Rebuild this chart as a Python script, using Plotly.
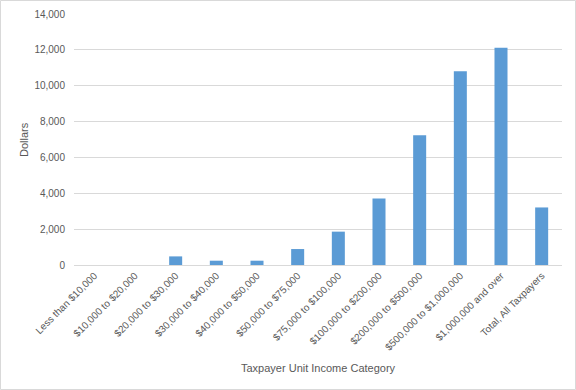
import plotly.graph_objects as go

categories = ["Less than $10,000", "$10,000 to $20,000", "$20,000 to $30,000",
              "$30,000 to $40,000", "$40,000 to $50,000", "$50,000 to $75,000",
              "$75,000 to $100,000", "$100,000 to $200,000", "$200,000 to $500,000",
              "$500,000 to $1,000,000", "$1,000,000 and over", "Total, All Taxpayers"]
values = [0, 0, 480, 240, 240, 890, 1860, 3710, 7240, 10810, 12120, 3210]
y_ticks = [0, 2000, 4000, 6000, 8000, 10000, 12000, 14000]

W, H = 576, 390
ml, mr, mt, mb = 74, 14, 14, 125
pw, ph = W - ml - mr, H - mt - mb

fig = go.Figure(go.Bar(x=categories, y=values, marker=dict(color="#5b9bd5", line=dict(width=0))))

fig.update_layout(
    width=W, height=H,
    margin=dict(l=ml, r=mr, t=mt, b=mb, autoexpand=False),
    plot_bgcolor="white", paper_bgcolor="white",
    bargap=0.68,
    font=dict(family="Liberation Sans, Arial, sans-serif", color="#595959", size=10),
    showlegend=False,
    xaxis=dict(tickangle=-45, tickfont=dict(size=10), showgrid=False, showline=True,
               linecolor="#d9d9d9", ticks="", automargin=False),
    yaxis=dict(range=[0, 14000], tickvals=y_ticks, tickformat=",", gridcolor="#d9d9d9",
               zeroline=False, showline=False, ticks="", ticklabelstandoff=8, automargin=False),
    annotations=[
        dict(text="Taxpayer Unit Income Category", xref="paper", yref="paper",
             x=0.5, y=-(368 - mt - ph) / ph, xanchor="center", yanchor="middle",
             showarrow=False, font=dict(size=11)),
        dict(text="Dollars", xref="paper", yref="paper", textangle=-90,
             x=(23.5 - ml) / pw, y=0.5, xanchor="center", yanchor="middle",
             showarrow=False, font=dict(size=11)),
    ],
    shapes=[dict(type="rect", xref="paper", yref="paper",
                 x0=(-ml + 0.5) / pw, x1=(pw + mr - 0.5) / pw,
                 y0=(-mb + 0.5) / ph, y1=(ph + mt - 0.5) / ph,
                 line=dict(color="#d9d9d9", width=1), layer="below")],
)

fig.write_html("out.html", config={"displayModeBar": False},
               post_script="document.body.style.margin='0';document.body.style.overflow='hidden';")
